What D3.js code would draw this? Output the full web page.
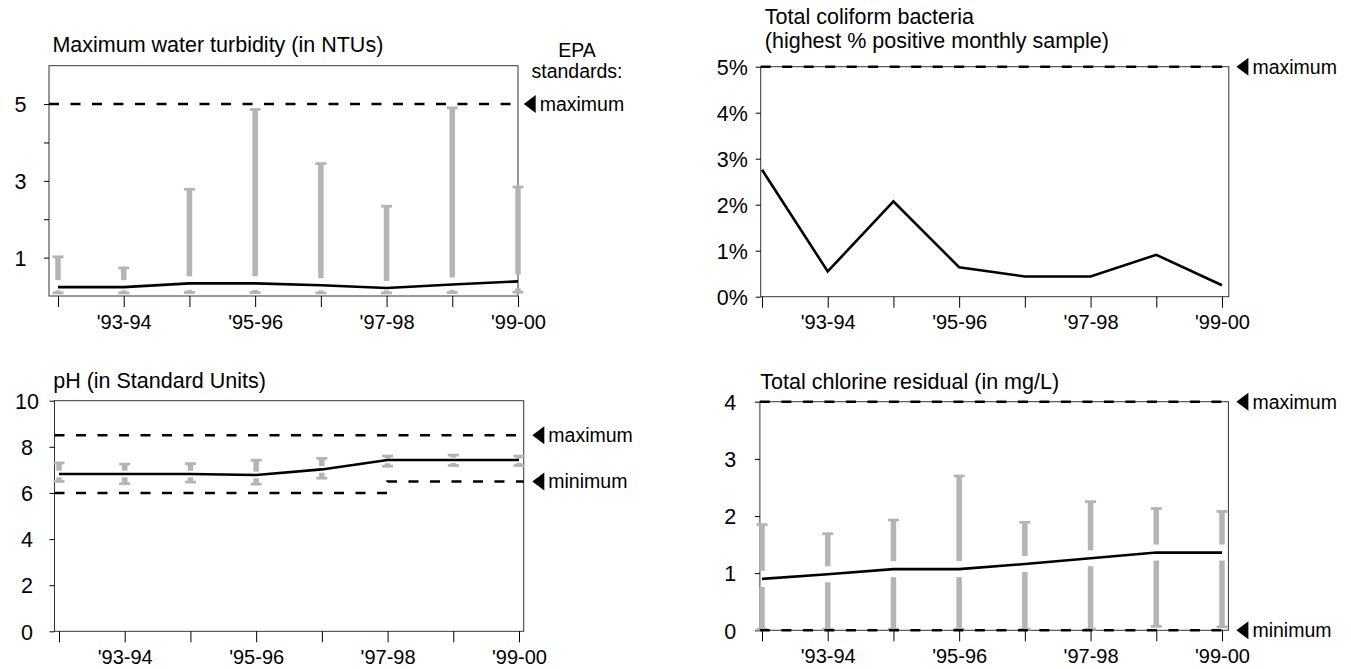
<!DOCTYPE html>
<html><head><meta charset="utf-8">
<script src="https://cdn.jsdelivr.net/npm/d3@7"></script>
<style>
body{margin:0;background:#fff}
svg{display:block}
text{font-family:Arial,"Liberation Sans",sans-serif;fill:#000}
</style>
</head><body>
<svg id="c" width="1351" height="669"></svg>
<script>
// ---------- data ----------
const years = ["'92-93","'93-94","'94-95","'95-96","'96-97","'97-98","'98-99","'99-00"];
const shownYears = ["'93-94","'95-96","'97-98","'99-00"];

// Maximum water turbidity (NTU)
const turbidityAvg = [0.23, 0.23, 0.33, 0.33, 0.28, 0.21, 0.30, 0.38];
const turbidityMax = [1.02, 0.73, 2.78, 4.86, 3.45, 2.34, 4.90, 2.84];
const turbidityMin = [0.08, 0.08, 0.09, 0.09, 0.08, 0.08, 0.09, 0.10];
const turbidityStdMax = [5, 5, 5, 5, 5, 5, 5, 5];
const turbidityTicks = [1, 2, 3, 4, 5];
const turbidityTickLabels = [1, 3, 5];

// Total coliform bacteria (highest % positive monthly sample)
const coliformValues = [2.76, 0.55, 2.07, 0.64, 0.44, 0.44, 0.91, 0.25];
const coliformStdMax = [5, 5, 5, 5, 5, 5, 5, 5];
const coliformTicks = [0, 1, 2, 3, 4, 5];

// pH
const phAvg = [6.82, 6.82, 6.82, 6.78, 7.02, 7.43, 7.43, 7.43];
const phMax = [7.30, 7.25, 7.27, 7.42, 7.50, 7.60, 7.64, 7.60];
const phMin = [6.50, 6.40, 6.47, 6.38, 6.64, 7.16, 7.19, 7.19];
const phStdMax = [8.5, 8.5, 8.5, 8.5, 8.5, 8.5, 8.5, 8.5];
const phStdMin = [6, 6, 6, 6, 6, 6.5, 6.5, 6.5];
const phTicks = [0, 2, 4, 6, 8, 10];

// Total chlorine residual (mg/L)
const chlorineAvg = [0.90, 0.98, 1.07, 1.07, 1.16, 1.26, 1.36, 1.36];
const chlorineMax = [1.85, 1.69, 1.93, 2.70, 1.89, 2.25, 2.13, 2.08];
const chlorineMin = [0.02, 0.02, 0.02, 0.02, 0.02, 0.02, 0.07, 0.06];
const chlorineStdMax = [4, 4, 4, 4, 4, 4, 4, 4];
const chlorineStdMin = [0, 0, 0, 0, 0, 0, 0, 0];
const chlorineTicks = [0, 1, 2, 3, 4];

// ---------- drawing ----------
const svg = d3.select("#c");
const BAR = "#b4b4b4";
const FONT = 'Arial, "Liberation Sans", sans-serif';

function panel(cfg) {
  const g = svg.append("g");
  const x = d3.scalePoint(years, [cfg.x0, cfg.x1]);
  const y = d3.scaleLinear(cfg.domain, [cfg.bottom, cfg.top]);

  // title
  cfg.title.forEach((t, i) => {
    g.append("text").attr("x", cfg.titleX).attr("y", cfg.titleY[i])
      .attr("font-size", 21.5).text(t);
  });

  // frame
  g.append("rect").attr("x", cfg.left).attr("y", cfg.top)
    .attr("width", cfg.right - cfg.left).attr("height", cfg.bottom - cfg.top)
    .attr("fill", "none").attr("stroke", "#333").attr("stroke-width", 1);

  // x axis
  const gx = g.append("g").attr("transform", `translate(0,${cfg.bottom})`)
    .call(d3.axisBottom(x).tickSize(11).tickSizeOuter(0)
      .tickFormat(d => shownYears.includes(d) ? d : ""));
  gx.select(".domain").remove();
  gx.attr("font-family", FONT).attr("font-size", 20);
  gx.selectAll("text").attr("y", 32.5).attr("dy", 0).attr("fill", "#000");
  gx.selectAll("line").attr("stroke", "#000");

  // y axis
  const gy = g.append("g").attr("transform", `translate(${cfg.left},0)`)
    .call(d3.axisLeft(y).tickValues(cfg.ticks).tickSize(5).tickSizeOuter(0)
      .tickFormat(d => cfg.tickLabels.includes(d) ? cfg.fmt(d) : ""));
  gy.select(".domain").remove();
  gy.attr("font-family", FONT).attr("font-size", 21.5);
  gy.selectAll("text").attr("text-anchor", "middle").attr("x", -cfg.labelOff)
    .attr("dy", "0.36em").attr("fill", "#000");

  // range bars
  if (cfg.max) {
    const gap = cfg.gap, stub = 2.5;
    years.forEach((yr, i) => {
      const cx = x(yr);
      const yMax = y(cfg.max[i]), yMin = y(cfg.min[i]), yAvg = y(cfg.avg[i]);
      let uBot = yAvg - gap;
      if (uBot - yMax < stub) uBot = yMax + stub;
      let lTop = yAvg + gap;
      if (yMin - lTop < stub) lTop = yMin - stub;
      g.append("line").attr("x1", cx).attr("x2", cx).attr("y1", yMax).attr("y2", uBot)
        .attr("stroke", BAR).attr("stroke-width", 5.5);
      g.append("line").attr("x1", cx).attr("x2", cx).attr("y1", lTop).attr("y2", yMin)
        .attr("stroke", BAR).attr("stroke-width", 5.5);
      [yMax, yMin].forEach(yy => {
        g.append("line").attr("x1", cx - 5.5).attr("x2", cx + 5.5).attr("y1", yy).attr("y2", yy)
          .attr("stroke", BAR).attr("stroke-width", 2.8);
      });
    });
  }

  // main line
  g.append("path").datum(cfg.avg)
    .attr("d", d3.line().x((d, i) => x(years[i])).y(d => y(d)))
    .attr("fill", "none").attr("stroke", "#000").attr("stroke-width", 2.6);

  // EPA standards
  cfg.standards.forEach(s => {
    const pts = [[cfg.left, s.values[0]]]
      .concat(s.values.map((v, i) => [x(years[i]), v]))
      .concat([[cfg.right, s.values[s.values.length - 1]]]);
    g.append("path").datum(pts)
      .attr("d", d3.line().x(d => d[0]).y(d => y(d[1])).curve(d3.curveStepAfter))
      .attr("fill", "none").attr("stroke", "#000").attr("stroke-width", 2.5)
      .attr("stroke-dasharray", "10,11.5");
    const ay = y(s.values[s.values.length - 1]);
    const tip = cfg.right + cfg.arrowOff;
    g.append("path").attr("d", `M${tip},${ay}L${tip + 12},${ay - 9}L${tip + 12},${ay + 9}Z`)
      .attr("fill", "#000");
    g.append("text").attr("x", tip + 16).attr("y", ay + 7)
      .attr("font-size", 19.5).text(s.label);
  });
}

panel({
  title: ["Maximum water turbidity (in NTUs)"], titleX: 52.4, titleY: [52],
  left: 49, right: 518, top: 65.7, bottom: 296, x0: 58, x1: 518,
  domain: [0, 6], ticks: turbidityTicks, tickLabels: turbidityTickLabels, fmt: d => d,
  labelOff: 28.6, arrowOff: 5.7, gap: 7,
  avg: turbidityAvg, max: turbidityMax, min: turbidityMin,
  standards: [{values: turbidityStdMax, label: "maximum"}]
});

svg.append("text").attr("x", 577).attr("y", 56.7).attr("text-anchor", "middle")
  .attr("font-size", 19.5).text("EPA");
svg.append("text").attr("x", 577).attr("y", 78).attr("text-anchor", "middle")
  .attr("font-size", 19.5).text("standards:");

panel({
  title: ["Total coliform bacteria", "(highest % positive monthly sample)"], titleX: 764.8, titleY: [23.5, 48],
  left: 760.7, right: 1228.8, top: 66.7, bottom: 296.7, x0: 762, x1: 1222,
  domain: [0, 5], ticks: coliformTicks, tickLabels: coliformTicks, fmt: d => d + "%",
  labelOff: 28.3, arrowOff: 7.6,
  avg: coliformValues,
  standards: [{values: coliformStdMax, label: "maximum"}]
});

panel({
  title: ["pH (in Standard Units)"], titleX: 53.2, titleY: [388],
  left: 54.5, right: 523.7, top: 400.7, bottom: 631.3, x0: 59, x1: 519,
  domain: [0, 10], ticks: phTicks, tickLabels: phTicks, fmt: d => d,
  labelOff: 27.5, arrowOff: 8.6, gap: 3.3,
  avg: phAvg, max: phMax, min: phMin,
  standards: [{values: phStdMax, label: "maximum"}, {values: phStdMin, label: "minimum"}]
});

panel({
  title: ["Total chlorine residual (in mg/L)"], titleX: 760.3, titleY: [388.5],
  left: 759.9, right: 1228.4, top: 401.7, bottom: 630.3, x0: 762, x1: 1222,
  domain: [0, 4], ticks: chlorineTicks, tickLabels: chlorineTicks, fmt: d => d,
  labelOff: 29.7, arrowOff: 8, gap: 8,
  avg: chlorineAvg, max: chlorineMax, min: chlorineMin,
  standards: [{values: chlorineStdMax, label: "maximum"}, {values: chlorineStdMin, label: "minimum"}]
});
</script>
</body></html>
